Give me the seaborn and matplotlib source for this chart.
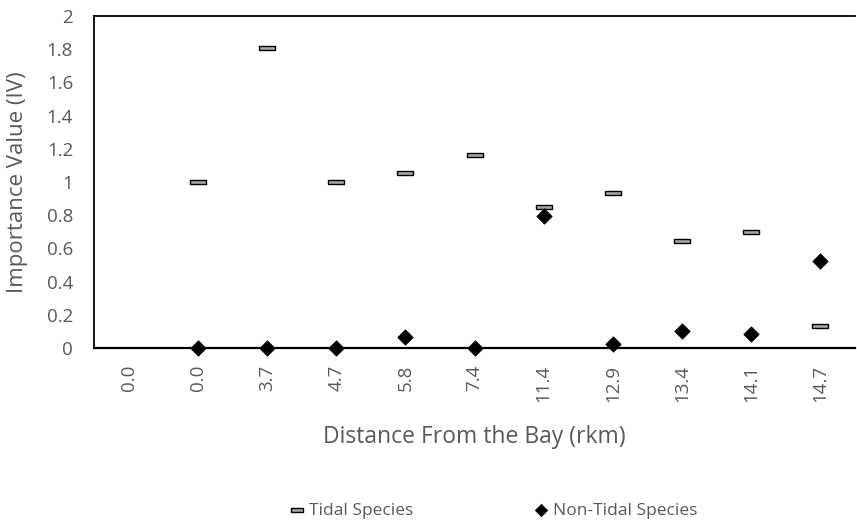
import matplotlib
matplotlib.use("Agg")
import matplotlib.pyplot as plt
import seaborn as sns
import pandas as pd
import numpy as np

categories = ["0.0", "0.0", "3.7", "4.7", "5.8", "7.4", "11.4", "12.9", "13.4", "14.1", "14.7"]
tidal = [None, 1.0, 1.81, 1.0, 1.055, 1.165, 0.85, 0.935, 0.645, 0.70, 0.13]
non_tidal = [None, 0.0, 0.0, 0.0, 0.065, 0.0, 0.795, 0.025, 0.105, 0.084, 0.524]
y_ticks = [0, 0.2, 0.4, 0.6, 0.8, 1, 1.2, 1.4, 1.6, 1.8, 2]
y_tick_labels = ["0", "0.2", "0.4", "0.6", "0.8", "1", "1.2", "1.4", "1.6", "1.8", "2"]

sns.set_theme(style="white")
plt.rcParams["font.family"] = ["Open Sans", "DejaVu Sans"]

pos = list(range(len(categories)))
df_t = pd.DataFrame({"x": pos, "y": tidal}).dropna()
df_n = pd.DataFrame({"x": pos, "y": non_tidal}).dropna()

fig = plt.figure(figsize=(8.57, 5.31), dpi=100)
ax = fig.add_axes([94/857, 1-348/531, (855-94)/857, (348-16)/531])

dash = [(-1.75, -0.5), (1.75, -0.5), (1.75, 0.5), (-1.75, 0.5), (-1.75, -0.5)]
sns.scatterplot(data=df_t, x="x", y="y", ax=ax, marker=dash, s=117,
                color="#a6a6a6", edgecolor="black", linewidth=1.0,
                label="Tidal Species", clip_on=False, zorder=4)
sns.scatterplot(data=df_n, x="x", y="y", ax=ax, marker="D", s=62,
                color="black", edgecolor="black", linewidth=0.5,
                label="Non-Tidal Species", clip_on=False, zorder=5)

ax.set_xlim(-0.5, len(categories) - 0.5)
ax.set_ylim(0, 2)
ax.set_yticks(y_ticks)
ax.set_yticklabels(y_tick_labels)
ax.set_xticks(pos)
ax.set_xticklabels(categories, rotation=90)
ax.tick_params(axis="y", length=0, pad=15, labelsize=13.5, labelcolor="#595959")
ax.tick_params(axis="x", length=0, pad=12, labelsize=13.5, labelcolor="#595959")

for side in ["top", "left", "bottom"]:
    ax.spines[side].set_visible(True)
    ax.spines[side].set_color("black")
    ax.spines[side].set_linewidth(1.3)
ax.spines["bottom"].set_linewidth(1.6)
ax.spines["right"].set_visible(False)

ax.set_xlabel("Distance From the Bay (rkm)", fontsize=16.5, color="#595959")
ax.set_ylabel("Importance Value (IV)", fontsize=16, color="#595959")
ax.xaxis.set_label_coords(0.5, -(437 - 348) / 332)
ax.xaxis.label.set_va("center")
ax.yaxis.set_label_coords((18 - 94) / 761, 0.5)
ax.yaxis.label.set_va("center")

leg = ax.legend(loc="center", bbox_to_anchor=(0.575, 0.038), bbox_transform=fig.transFigure,
                ncol=2, frameon=False, fontsize=12.5, columnspacing=6.9,
                handlelength=1.0, handletextpad=0.15, markerscale=0.8)
for t in leg.get_texts():
    t.set_color("#595959")

fig.savefig("out.png", dpi=100)
